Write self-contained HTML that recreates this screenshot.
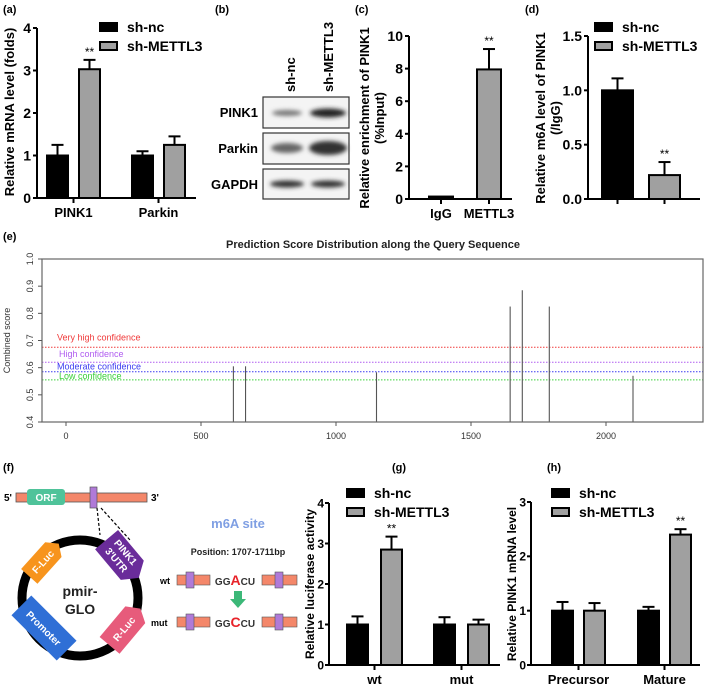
<!DOCTYPE html>
<html><head><meta charset="utf-8"><style>
body{margin:0;background:#fff}
svg{display:block;font-family:"Liberation Sans",Arial,sans-serif}
.b{font-weight:bold}
</style></head><body>
<svg id="fig" width="709" height="686" viewBox="0 0 709 686">
<g class="b" font-size="11">
<text x="3" y="13">(a)</text><text x="215" y="13">(b)</text><text x="355" y="13">(c)</text><text x="525" y="13">(d)</text>
<text x="3" y="240">(e)</text><text x="3" y="471">(f)</text><text x="392" y="471">(g)</text><text x="547" y="471">(h)</text>
</g>
<g>
<defs><filter id="bl"><feGaussianBlur stdDeviation="2.2"/></filter></defs>
<text class="b" font-size="13" transform="translate(295,92) rotate(-90)">sh-nc</text>
<text class="b" font-size="13" transform="translate(333,92) rotate(-90)">sh-METTL3</text>
<rect x="263" y="97" width="86" height="31" fill="#f4f4f4" stroke="#333" stroke-width="1.2"/>
<rect x="263" y="133" width="86" height="31" fill="#f4f4f4" stroke="#333" stroke-width="1.2"/>
<rect x="263" y="169" width="86" height="30" fill="#f4f4f4" stroke="#333" stroke-width="1.2"/>
<g filter="url(#bl)">
<ellipse cx="287" cy="113" rx="15" ry="3" fill="#777"/><ellipse cx="328" cy="113" rx="18" ry="4.5" fill="#222"/>
<ellipse cx="287" cy="148" rx="16" ry="5" fill="#666"/><ellipse cx="328" cy="148" rx="19" ry="7" fill="#333"/>
<ellipse cx="287" cy="184" rx="17" ry="3.5" fill="#333"/><ellipse cx="328" cy="184" rx="17" ry="3.5" fill="#333"/>
</g>
<g class="b" font-size="13" text-anchor="end"><text x="258" y="117">PINK1</text><text x="258" y="153">Parkin</text><text x="258" y="189">GAPDH</text></g>
</g>
<g id="charts"></g>
<g id="pe"></g>
<g>
<text class="b" font-size="10" x="4" y="501">5'</text><text class="b" font-size="10" x="151" y="501">3'</text>
<rect x="16" y="493" width="131" height="9" fill="#f4876a" stroke="#555" stroke-width="0.8"/>
<rect x="27" y="489" width="38" height="16" rx="3" fill="#4fc39a"/>
<text x="46" y="501" font-size="10" class="b" fill="#fff" text-anchor="middle">ORF</text>
<rect x="90" y="487" width="7" height="21" fill="#b07ad8" stroke="#555" stroke-width="0.7"/>
<line x1="97" y1="508" x2="100" y2="535" stroke="#000" stroke-dasharray="3,2" stroke-width="1.2"/>
<line x1="101" y1="508" x2="130" y2="540" stroke="#000" stroke-dasharray="3,2" stroke-width="1.2"/>
<circle cx="80" cy="598" r="58" fill="none" stroke="#000" stroke-width="9"/>
<g transform="translate(44,560) rotate(-48)"><polygon points="-22,-11 14,-11 22,0 14,11 -22,11" fill="#f7941d"/><text x="-2" y="4" font-size="10" class="b" fill="#fff" text-anchor="middle">F-Luc</text></g>
<g transform="translate(122,558) rotate(50)"><polygon points="-24,-15 16,-15 26,0 16,15 -24,15" fill="#6a2c9a"/><text x="-2" y="-3" font-size="10" class="b" fill="#fff" text-anchor="middle">PINK1</text><text x="-2" y="9" font-size="10" class="b" fill="#fff" text-anchor="middle">3'UTR</text></g>
<g transform="translate(44,628) rotate(45)"><rect x="-32" y="-14" width="64" height="28" fill="#2f6fd6"/><text x="0" y="4" font-size="10" class="b" fill="#fff" text-anchor="middle">Promoter</text></g>
<g transform="translate(125,627) rotate(-50)"><polygon points="-24,-13 16,-13 24,0 16,13 -24,13" fill="#e75b7b"/><text x="-2" y="4" font-size="10" class="b" fill="#fff" text-anchor="middle">R-Luc</text></g>
<text x="80" y="596" font-size="14" class="b" text-anchor="middle" fill="#222">pmir-</text>
<text x="80" y="614" font-size="14" class="b" text-anchor="middle" fill="#222">GLO</text>
<text x="238" y="528" font-size="13" class="b" fill="#7f9fe3" text-anchor="middle">m6A site</text>
<text x="238" y="555" font-size="9" class="b" fill="#222" text-anchor="middle">Position: 1707-1711bp</text>
<g>
<text x="160" y="584" font-size="9" class="b">wt</text>
<rect x="177" y="575" width="33" height="10" fill="#f4876a" stroke="#555" stroke-width="0.6"/><rect x="186" y="572" width="8" height="16" fill="#b07ad8" stroke="#555" stroke-width="0.6"/>
<text x="235" y="585" font-size="10" class="b" fill="#333" text-anchor="middle">GG<tspan fill="#e8232a" font-size="14">A</tspan>CU</text>
<rect x="262" y="575" width="35" height="10" fill="#f4876a" stroke="#555" stroke-width="0.6"/><rect x="275" y="572" width="8" height="16" fill="#b07ad8" stroke="#555" stroke-width="0.6"/>
</g>
<polygon points="234,591 242,591 242,599 246,599 238,608 230,599 234,599" fill="#3cb878"/>
<g>
<text x="151" y="626" font-size="9" class="b">mut</text>
<rect x="177" y="617" width="33" height="10" fill="#f4876a" stroke="#555" stroke-width="0.6"/><rect x="186" y="614" width="8" height="16" fill="#b07ad8" stroke="#555" stroke-width="0.6"/>
<text x="235" y="627" font-size="10" class="b" fill="#333" text-anchor="middle">GG<tspan fill="#e8232a" font-size="14">C</tspan>CU</text>
<rect x="262" y="617" width="35" height="10" fill="#f4876a" stroke="#555" stroke-width="0.6"/><rect x="275" y="614" width="8" height="16" fill="#b07ad8" stroke="#555" stroke-width="0.6"/>
</g>
</g>
</svg>
<script>
// Panel a
const aCats=["PINK1","Parkin"], aNc=[1.0,1.0], aMt=[3.03,1.25], aNcErr=[0.25,0.1], aMtErr=[0.22,0.2], aTicks=[0,1,2,3,4];
// Panel c
const cCats=["IgG","METTL3"], cVals=[0.15,7.95], cErr=[0,1.25], cTicks=[0,2,4,6,8,10];
// Panel d
const dCats=["sh-nc","sh-METTL3"], dVals=[1.0,0.22], dErr=[0.11,0.12], dTicks=["0.0","0.5","1.0","1.5"];
// Panel g
const gCats=["wt","mut"], gNc=[1.0,1.0], gMt=[2.85,1.0], gNcErr=[0.2,0.18], gMtErr=[0.32,0.12], gTicks=[0,1,2,3,4];
// Panel h
const hCats=["Precursor","Mature"], hNc=[1.0,1.0], hMt=[1.0,2.4], hNcErr=[0.16,0.07], hMtErr=[0.14,0.1], hTicks=[0,1,2,3];
// Panel e
const ePos=[620,665,1150,1645,1690,1790,2100], eScore=[0.605,0.605,0.583,0.825,0.885,0.825,0.57];
const eThreshNames=["Very high confidence","High confidence","Moderate confidence","Low confidence"], eThresh=[0.675,0.62,0.585,0.555];
const eXTicks=[0,500,1000,1500,2000], eYTicks=["0.4","0.5","0.6","0.7","0.8","0.9","1.0"];

const NS="http://www.w3.org/2000/svg";
function mk(p,t,at,tx){const e=document.createElementNS(NS,t);for(const k in at)e.setAttribute(k,at[k]);if(tx!=null)e.textContent=tx;p.appendChild(e);return e;}
const root=document.getElementById('charts');

function chart(o){
 const g=mk(root,'g',{});
 
 
 const max=parseFloat(o.ticks[o.ticks.length-1]);
 const Y=v=>o.y0-(v/max)*(o.y0-o.yTop);
 mk(g,'line',{x1:o.ax,y1:o.yTop,x2:o.ax,y2:o.y0,stroke:'#000','stroke-width':2});
 mk(g,'line',{x1:o.ax,y1:o.y0,x2:o.axEnd,y2:o.y0,stroke:'#000','stroke-width':2});
 o.ticks.forEach(t=>{const y=Y(parseFloat(t));
  mk(g,'line',{x1:o.ax-4,y1:y,x2:o.ax,y2:y,stroke:'#000','stroke-width':2});
  const tl=mk(g,'text',{x:o.ax-(o.tgap||6),y:y+(o.tfs||14)*0.36,'font-size':o.tfs||14,'font-weight':'bold','text-anchor':'end'},t);
  
  
 });
 o.cats.forEach((c,gi)=>{
  const gl=o.gLeft+gi*o.gStep;
  const cx=o.series.length>1? gl+(o.bw+o.off)/2 : gl+o.bw/2;
  mk(g,'line',{x1:cx,y1:o.y0,x2:cx,y2:o.y0+5,stroke:'#000','stroke-width':2});
  const cl=mk(g,'text',{x:cx,y:o.y0+19,'font-size':13,'font-weight':'bold','text-anchor':'middle'},o.hideCat?'':c);
  
  
  o.series.forEach((s,si)=>{
   const x=gl+si*o.off, v=s.vals[gi], e=s.err[gi];
   const col=o.colors?o.colors[gi]:s.fill;
   if(e>0){const ex=x+o.bw/2;
    mk(g,'line',{x1:ex,y1:Y(v),x2:ex,y2:Y(v+e),stroke:'#000','stroke-width':2});
    mk(g,'line',{x1:ex-6,y1:Y(v+e),x2:ex+6,y2:Y(v+e),stroke:'#000','stroke-width':2});}
   const r=mk(g,'rect',{x:x,y:Y(v),width:o.bw,height:o.y0-Y(v),fill:col,stroke:'#000','stroke-width':2});
   
   
   if(s.star&&s.star[gi]){mk(g,'text',{x:x+o.bw/2,y:Y(v+e)-4,'font-size':12,'text-anchor':'middle'},'**');}
  });
 });
 o.title.forEach((t,i)=>{const tt=mk(g,'text',{transform:`translate(${o.tx+i*15},${o.ty}) rotate(-90)`,'font-size':o.tfsz||13,'font-weight':'bold','text-anchor':'middle'},t);
  
  });
 if(o.legend){['sh-nc','sh-METTL3'].forEach((n,i)=>{
  const ly=o.legend[1]+i*19;
  const sw=mk(g,'rect',{x:o.legend[0],y:ly-4,width:17,height:8,fill:i?'#a0a0a0':'#000',stroke:'#000','stroke-width':2});
  
  
  const lt=mk(g,'text',{x:o.legend[0]+27,y:ly+5,'font-size':14,'font-weight':'bold'},n);
  
  
 });}
}
const BK='#000',GR='#a0a0a0';
chart({name:'chart-a',ax:37,y0:198,yTop:28,axEnd:196,ticks:aTicks,cats:aCats,gLeft:47,gStep:85,bw:21,off:32,
 series:[{vals:aNc,err:aNcErr,fill:BK},{vals:aMt,err:aMtErr,fill:GR,star:[1,0]}],title:['Relative mRNA level (folds)'],tx:14,ty:112,legend:[100,27]});
chart({name:'chart-c',ax:409,y0:199,yTop:36,axEnd:512,ticks:cTicks,cats:cCats,gLeft:429,gStep:48,bw:24,off:0,colors:[BK,GR],
 series:[{vals:cVals,err:cErr,fill:GR,star:[0,1]}],title:['Relative enrichment of PINK1','(%Input)'],tx:369,ty:118});
chart({name:'chart-d',ax:588,y0:199,yTop:36,axEnd:700,ticks:dTicks,cats:dCats,gLeft:602,gStep:47,bw:31,off:0,colors:[BK,GR],hideCat:true,
 series:[{vals:dVals,err:dErr,fill:BK,star:[0,1]}],title:['Relative m6A level of PINK1','(/IgG)'],tx:545,ty:118,legend:[595,27]});
chart({name:'chart-g',ax:329,y0:665,yTop:503,axEnd:500,ticks:gTicks,cats:gCats,gLeft:347,gStep:87,bw:21,off:34,tfs:12,tgap:5,tfsz:12,
 series:[{vals:gNc,err:gNcErr,fill:BK},{vals:gMt,err:gMtErr,fill:GR,star:[1,0]}],title:['Relative luciferase activity'],tx:314,ty:584,legend:[347,493]});
chart({name:'chart-h',ax:531,y0:665,yTop:502,axEnd:700,ticks:hTicks,cats:hCats,gLeft:552,gStep:86,bw:21,off:32,tfs:12,tgap:5,tfsz:12,
 series:[{vals:hNc,err:hNcErr,fill:BK},{vals:hMt,err:hMtErr,fill:GR,star:[0,1]}],title:['Relative PINK1 mRNA level'],tx:516,ty:584,legend:[552,493]});

// Panel e
(function(){
 const g=document.getElementById('pe');
 const L=42,R=703,T=259,B=422, X=v=>66+v*(201-66)/500, Y=v=>B-(v-0.4)/0.6*(B-T);
 mk(g,'text',{x:373,y:248,'font-size':11,'font-weight':'bold','text-anchor':'middle',fill:'#222'},'Prediction Score Distribution along the Query Sequence');
 const cols=['#f03a3a','#b05cf0','#3a3af0','#3ad03a'], offs=[-7,-5,-2,-1], tx=[57,59,57,59];
 eThresh.forEach((t,i)=>{
  const ln=mk(g,'line',{x1:L,y1:Y(t),x2:R,y2:Y(t),stroke:cols[i],'stroke-dasharray':'1.5,1.5','stroke-width':1});
  
  
  const lt=mk(g,'text',{x:tx[i],y:Y(t)+offs[i],'font-size':9,fill:cols[i]},eThreshNames[i]);
  
  
 });
 ePos.forEach((p,i)=>{
  const s=mk(g,'line',{x1:X(p),y1:B,x2:X(p),y2:Y(eScore[i]),stroke:'#555','stroke-width':1.1});
  
  
 });
 mk(g,'rect',{x:L,y:T,width:R-L,height:B-T,fill:'none',stroke:'#666','stroke-width':1.2});
 eXTicks.forEach(v=>{mk(g,'line',{x1:X(v),y1:B,x2:X(v),y2:B+4,stroke:'#555'});
  const t=mk(g,'text',{x:X(v),y:B+17,'font-size':9,'text-anchor':'middle',fill:'#333'},v);
  
  });
 eYTicks.forEach(v=>{const y=Y(parseFloat(v));mk(g,'line',{x1:L-4,y1:y,x2:L,y2:y,stroke:'#555'});
  const t=mk(g,'text',{transform:`translate(${L-9},${y}) rotate(-90)`,'font-size':9,'text-anchor':'middle',fill:'#333'},v);
  
  });
 const yt=mk(g,'text',{transform:`translate(10,${(T+B)/2}) rotate(-90)`,'font-size':9,'text-anchor':'middle',fill:'#333'},'Combined score');
 
 
})();
</script>
</body></html>
